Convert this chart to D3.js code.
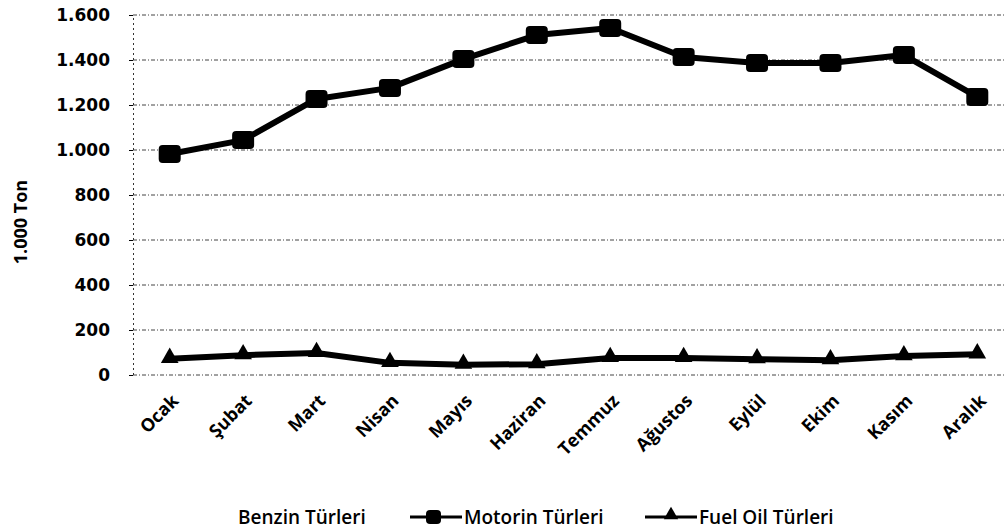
<!DOCTYPE html>
<html>
<head>
    <meta charset="utf-8">
    <script src="https://d3js.org/d3.v7.min.js"></script>
    <style>
        body { margin: 0; background: #fff; }
    </style>
</head>
<body>
    <svg id="chart"></svg>

    <script>
        // Chart data
        const months = ["Ocak", "Şubat", "Mart", "Nisan", "Mayıs", "Haziran",
                        "Temmuz", "Ağustos", "Eylül", "Ekim", "Kasım", "Aralık"];
        const motorin = [982, 1044, 1227, 1276, 1404, 1511, 1542, 1413, 1387, 1387, 1422, 1236];
        const fuelOil = [72, 88, 98, 54, 46, 48, 76, 76, 70, 66, 84, 92];
        const yTicks = [0, 200, 400, 600, 800, 1000, 1200, 1400, 1600];
        const seriesNames = ["Benzin Türleri", "Motorin Türleri", "Fuel Oil Türleri"];
        const yTitle = "1.000 Ton";

        let width = 1004, height = 531;

        const svg = d3.select("#chart")
            .attr("width", width)
            .attr("height", height);

        // Scales
        const x = d3.scalePoint()
            .domain(months)
            .range([133, 1014])
            .padding(0.5);

        const y = d3.scaleLinear()
            .domain([0, 1600])
            .range([375, 15]);

        // Turkish number format: 1.600
        const tr = d3.formatLocale({ decimal: ",", thousands: ".", grouping: [3], currency: ["", ""] });
        const fmt = tr.format(",");

        // Gridlines (dotted, scanned look)
        svg.append("g")
            .selectAll("line")
            .data(yTicks)
            .join("line")
                .attr("x1", 133)
                .attr("x2", width)
                .attr("y1", d => y(d))
                .attr("y2", d => y(d))
                .attr("stroke", "#444")
                .attr("stroke-width", 1)
                .attr("stroke-dasharray", "4,2,1,2");

        // Y axis
        const yAxis = svg.append("g")
            .attr("transform", "translate(133,0)")
            .call(d3.axisLeft(y).tickValues(yTicks).tickFormat(fmt).tickSize(4).tickPadding(19));

        yAxis.select(".domain")
            .attr("stroke", "#333")
            .attr("stroke-dasharray", "2,3");
        yAxis.selectAll(".tick line").attr("stroke", "#000");
        yAxis.selectAll(".tick text")
            .style("font-family", "DejaVu Sans")
            .style("font-weight", "bold")
            .style("font-size", "17px")
            .attr("fill", "#000");

        // Y axis title
        svg.append("text")
            .attr("transform", "translate(27,222) rotate(-90)")
            .attr("text-anchor", "middle")
            .style("font-family", "Open Sans")
            .style("font-weight", "bold")
            .style("font-size", "18px")
            .text(yTitle);

        // X axis labels (rotated)
        svg.append("g")
            .selectAll("text")
            .data(months)
            .join("text")
                .attr("transform", d => `translate(${x(d) + 10},${402}) rotate(-45)`)
                .attr("text-anchor", "end")
                .style("font-family", "Open Sans")
                .style("font-weight", "bold")
                .style("font-size", "18px")
                .text(d => d);

        const line = d3.line()
            .x((d, i) => x(months[i]))
            .y(d => y(d));

        // Motorin series
        svg.append("path")
            .datum(motorin)
            .attr("d", line)
            .attr("fill", "none")
            .attr("stroke", "#000")
            .attr("stroke-width", 6)
            .attr("stroke-linejoin", "round");

        svg.append("g")
            .selectAll("rect")
            .data(motorin)
            .join("rect")
                .attr("x", (d, i) => x(months[i]) - 11)
                .attr("y", d => y(d) - 9)
                .attr("width", 22)
                .attr("height", 18)
                .attr("rx", 4)
                .attr("fill", "#000");

        // Fuel oil series
        svg.append("path")
            .datum(fuelOil)
            .attr("d", line)
            .attr("fill", "none")
            .attr("stroke", "#000")
            .attr("stroke-width", 6)
            .attr("stroke-linejoin", "round");

        const tri = d3.symbol().type(d3.symbolTriangle).size(135);
        svg.append("g")
            .selectAll("path")
            .data(fuelOil)
            .join("path")
                .attr("transform", (d, i) => `translate(${x(months[i])},${y(d) - 1})`)
                .attr("d", tri)
                .attr("fill", "#000");

        // Legend
        const legend = svg.append("g")
            .style("font-family", "Open Sans")
            .style("font-weight", "600")
            .style("font-size", "19px");

        legend.append("text")
            .attr("x", 238)
            .attr("y", 524)
            .text(seriesNames[0]);

        legend.append("line")
            .attr("x1", 410).attr("x2", 462)
            .attr("y1", 517).attr("y2", 517)
            .attr("stroke", "#000").attr("stroke-width", 3);
        legend.append("rect")
            .attr("x", 426).attr("y", 510)
            .attr("width", 15).attr("height", 14)
            .attr("rx", 4)
            .attr("fill", "#000");
        legend.append("text")
            .attr("x", 464)
            .attr("y", 524)
            .text(seriesNames[1]);

        legend.append("line")
            .attr("x1", 645).attr("x2", 697)
            .attr("y1", 517).attr("y2", 517)
            .attr("stroke", "#000").attr("stroke-width", 3);
        legend.append("path")
            .attr("transform", "translate(671,515)")
            .attr("d", d3.symbol().type(d3.symbolTriangle).size(90))
            .attr("fill", "#000");
        legend.append("text")
            .attr("x", 699)
            .attr("y", 524)
            .text(seriesNames[2]);
    </script>
</body>
</html>
